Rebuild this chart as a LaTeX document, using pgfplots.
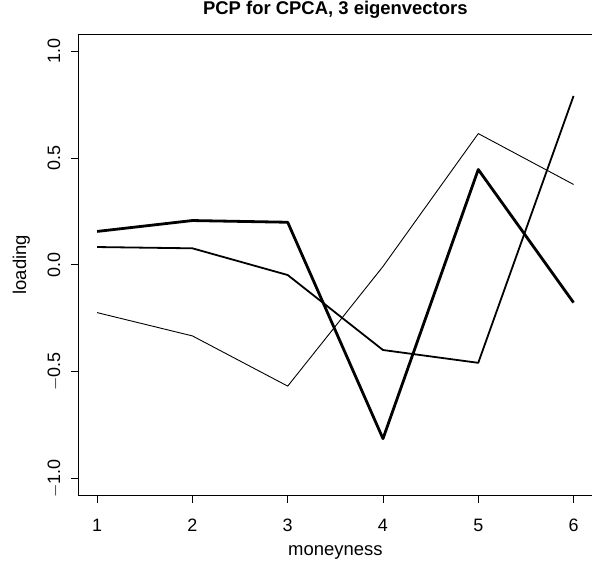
\documentclass[border=0pt]{standalone}
\usepackage{fontspec}
\setmainfont{Liberation Sans}
\usepackage{pgfplots}
\pgfplotsset{compat=1.18}

\begin{document}
\begin{tikzpicture}
\begin{axis}[
  scale only axis,
  width=514bp, height=461bp,
  xmin=0.8, xmax=6.2,
  ymin=-1.08, ymax=1.08,
  xtick={1,2,3,4,5,6},
  ytick={-1,-0.5,0,0.5,1},
  yticklabels={$-$1.0,$-$0.5,0.0,0.5,1.0},
  tick align=outside,
  major tick length=7bp,
  axis line style={line width=0.9bp},
  every tick/.style={black, line width=0.7bp},
  xtick pos=bottom, ytick pos=left,
  /pgf/number format/assume math mode=true,
  tick label style={font=\fontsize{18}{21}\selectfont},
  label style={font=\fontsize{18.5}{22}\selectfont},
  xticklabel style={anchor=base, yshift=-29bp},
  yticklabel style={rotate=90, anchor=base},
  yticklabel shift=11bp,
  title={\bfseries PCP for CPCA, 3 eigenvectors},
  title style={at={(axis description cs:0.5,1.0304)}, anchor=base, yshift=0pt,
    font=\fontsize{18.5}{22}\selectfont},
  xlabel={moneyness},
  xlabel style={at={(axis description cs:0.5,-0.1302)}, anchor=base},
  ylabel={loading},
  ylabel style={at={(axis description cs:-0.1012,0.5)}, anchor=base},
  clip=false,
]
\addplot[black, line width=2.8bp, line join=round] coordinates {
  (1,0.156) (2,0.207) (3,0.199) (4,-0.814) (5,0.446) (6,-0.177)};
\addplot[black, line width=1.8bp, line join=round] coordinates {
  (1,0.083) (2,0.077) (3,-0.048) (4,-0.399) (5,-0.459) (6,0.790)};
\addplot[black, line width=0.9bp, line join=round] coordinates {
  (1,-0.224) (2,-0.333) (3,-0.568) (4,-0.008) (5,0.614) (6,0.376)};
\end{axis}
\pgfresetboundingbox
\path[use as bounding box] ([xshift=-78bp,yshift=-67bp]current axis.south west)
  rectangle ([xshift=-0.6bp,yshift=34bp]current axis.north east);
\end{tikzpicture}
\end{document}
